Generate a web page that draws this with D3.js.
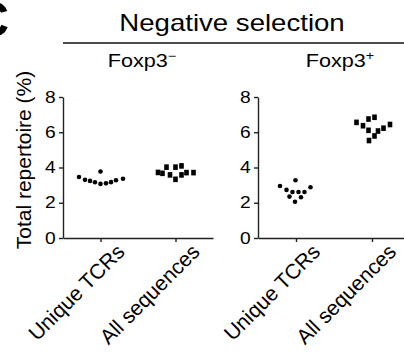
<!DOCTYPE html>
<html>
<head>
<meta charset="utf-8">
<script src="https://cdn.jsdelivr.net/npm/d3@7"></script>
<style>
  body { margin: 0; background: #fff; }
  svg { display: block; font-family: "Liberation Sans", Arial, sans-serif; }
</style>
</head>
<body>
<svg id="chart" width="404" height="352"></svg>
<script>
// categories and tick labels
var categories = ['Unique TCRs', 'All sequences'];
var yTicks = [0, 2, 4, 6, 8];

// Foxp3- panel values (% of total repertoire)
var negUnique = [3.46, 3.30, 3.24, 3.16, 3.77, 3.07, 3.10, 3.17, 3.28, 3.36];
var negAll    = [3.72, 3.67, 4.02, 3.58, 4.02, 3.33, 4.09, 3.58, 3.71, 3.71];
// Foxp3+ panel values
var posUnique = [2.95, 2.73, 2.35, 2.61, 3.28, 2.06, 2.61, 2.31, 2.61, 2.88];
var posAll    = [6.56, 6.37, 6.75, 6.85, 6.11, 5.53, 5.79, 6.07, 6.23, 6.44];

// horizontal scatter slot of each point inside its column (in dot widths)
var negUniqueSlot = [-4.3, -3.1, -2.1, -1.1, 0, 0, 1.1, 2.1, 3.1, 4.5];
var negAllSlot    = [-3.5, -2.6, -1.8, -1.1, 0, 0, 1.2, 1.2, 2.2, 3.6];
var posUniqueSlot = [-3.2, -1.9, -1.3, -0.7, -0.1, -0.2, 0.5, 1.0, 1.7, 2.9];
var posAllSlot    = [-3.1, -1.8, -0.7, 0.5, -0.7, -0.6, 0.5, 1.2, 2.3, 3.6];

var svg = d3.select('#chart');
var slotWidth = 5;
var axisColor = '#222';

var y = d3.scaleLinear().domain([0, 8]).range([238, 97]);

// panel label
svg.append('text')
  .text('C')
  .attr('x', 9)
  .attr('y', 37)
  .attr('text-anchor', 'end')
  .style('font-weight', 'bold')
  .style('font-size', '50px');

// title + rule
svg.append('text')
  .text('Negative selection')
  .attr('text-anchor', 'middle')
  .attr('transform', 'translate(232,31) scale(1.2,1)')
  .style('font-size', '23px');

svg.append('line')
  .attr('x1', 63).attr('x2', 404)
  .attr('y1', 43).attr('y2', 43)
  .attr('stroke', '#111')
  .attr('stroke-width', 1.5);

// y axis title
svg.append('text')
  .text('Total repertoire (%)')
  .attr('text-anchor', 'middle')
  .attr('transform', 'translate(31,160) rotate(-90)')
  .style('font-size', '21px');

var draw_panel = function(opts){
  var x = d3.scalePoint()
    .domain(categories)
    .range(opts.range)
    .padding(0.5);

  var g = svg.append('g');

  // subtitle with superscript sign
  var sub = g.append('text')
    .attr('text-anchor', 'middle')
    .attr('transform', 'translate(' + opts.labelX + ',67) scale(1.2,1)')
    .style('font-size', '18px');
  sub.append('tspan').text('Foxp3');
  sub.append('tspan').text(opts.sign)
    .attr('dy', -7)
    .style('font-size', '12px');

  // y axis
  var yAxis = g.append('g')
    .attr('transform', 'translate(' + opts.range[0] + ',0)')
    .call(d3.axisLeft(y).tickValues(yTicks).tickSize(4).tickSizeOuter(0).tickPadding(2));
  yAxis.selectAll('text')
    .attr('transform', 'scale(1.2,1)')
    .style('font-size', '16px')
    .style('font-family', '"Liberation Sans", Arial, sans-serif')
    .attr('fill', '#000');

  // x axis
  var xAxis = g.append('g')
    .attr('transform', 'translate(0,' + y(0) + ')')
    .call(d3.axisBottom(x).tickSize(4).tickSizeOuter(0));
  xAxis.selectAll('text')
    .attr('x', 0).attr('y', 0).attr('dy', 0)
    .attr('text-anchor', 'end')
    .attr('transform', 'translate(25,15) rotate(-45)')
    .style('font-size', '21px')
    .style('font-family', '"Liberation Sans", Arial, sans-serif')
    .attr('fill', '#000');

  g.selectAll('.domain, .tick line')
    .attr('stroke', axisColor)
    .attr('stroke-width', 1.4);

  // unique TCRs: round dots
  g.selectAll('.dot')
    .data(opts.unique)
    .enter().append('circle')
    .attr('class', 'dot')
    .attr('cx', function(d, i) { return x(categories[0]) + opts.uniqueSlot[i] * slotWidth; })
    .attr('cy', function(d) { return y(d); })
    .attr('r', 2.3)
    .attr('fill', '#000');

  // all sequences: squares
  g.selectAll('.sq')
    .data(opts.all)
    .enter().append('rect')
    .attr('class', 'sq')
    .attr('x', function(d, i) { return x(categories[1]) + opts.allSlot[i] * slotWidth - 2.3; })
    .attr('y', function(d) { return y(d) - 2.8; })
    .attr('width', 4.6)
    .attr('height', 5.6)
    .attr('fill', '#000');
};

draw_panel({range: [63, 213], labelX: 142, sign: '\u2212',
  unique: negUnique, uniqueSlot: negUniqueSlot, all: negAll, allSlot: negAllSlot});
draw_panel({range: [258, 410], labelX: 340, sign: '+',
  unique: posUnique, uniqueSlot: posUniqueSlot, all: posAll, allSlot: posAllSlot});
</script>
</body>
</html>
